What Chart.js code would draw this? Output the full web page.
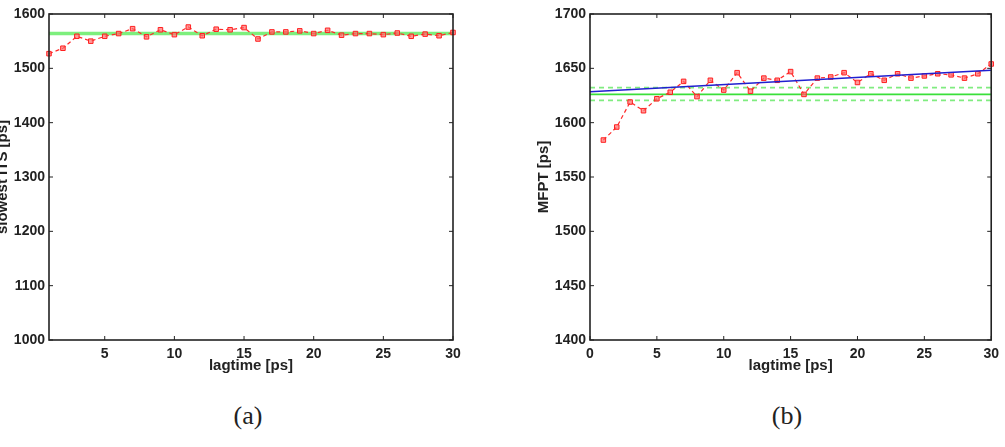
<!DOCTYPE html>
<html>
<head>
<meta charset="utf-8">
<script src="https://cdn.jsdelivr.net/npm/chart.js@4/dist/chart.umd.min.js"></script>
<style>
  body { margin: 0; width: 1005px; height: 447px; background: #fff; position: relative; overflow: hidden; }
  .box { position: absolute; top: 0; height: 390px; }
  #boxA { left: -6px; width: 486px; }
  #boxB { left: 535px; width: 470px; }
  .cap { position: absolute; top: 401px; font: 26px "Liberation Serif", "DejaVu Serif", serif; color: #222; transform: translateX(-50%); }
</style>
</head>
<body>
<div class="box" id="boxA"><canvas id="chartA"></canvas></div>
<div class="box" id="boxB"><canvas id="chartB"></canvas></div>
<div class="cap" style="left:248px">(a)</div>
<div class="cap" style="left:787px">(b)</div>
<script>
// lagtime values (ps)
const lagtimes = [1,2,3,4,5,6,7,8,9,10,11,12,13,14,15,16,17,18,19,20,21,22,23,24,25,26,27,28,29,30];

// (a) slowest implied timescale
const slowestITS = [1527,1537,1559,1550,1559,1564,1573,1558,1571,1562,1576,1560,1572,1571,1575,1554,1567,1567,1569,1564,1570,1561,1564,1564,1562,1565,1559,1563,1560,1566];
const itsReference = 1564;
const xTicksA = [5,10,15,20,25,30];

// (b) mean first passage time
const mfpt = [1584,1596,1619,1611,1622,1628,1638,1624,1639,1630,1646,1629,1641,1639,1647,1626,1641,1642,1646,1637,1645,1639,1645,1641,1643,1645,1644,1641,1645,1654];
const fitX = [0, 30];
const fitY = [1628.5, 1648.2];
const mfptReference = 1626;
const mfptUpper = 1632.2;
const mfptLower = 1620.5;

const tickFont = { family: '"Liberation Sans", Arial, sans-serif', size: 14, weight: 'bold' };
const titleFont = { family: '"Liberation Sans", Arial, sans-serif', size: 15, weight: 'bold' };
const ink = '#222';

const pts = ys => lagtimes.map((x, i) => ({ x: x, y: ys[i] }));
const hline = (x0, x1, v) => [{ x: x0, y: v }, { x: x1, y: v }];

// MATLAB style box with inward ticks
const frame = {
    id: 'frame',
    afterDatasetsDraw(chart) {
        const { ctx, chartArea: a, scales: { x, y } } = chart;
        ctx.save();
        ctx.strokeStyle = ink;
        ctx.lineWidth = 1;
        ctx.beginPath();
        x.ticks.forEach(t => {
            const p = x.getPixelForValue(t.value);
            ctx.moveTo(p, a.bottom); ctx.lineTo(p, a.bottom - 4);
            ctx.moveTo(p, a.top); ctx.lineTo(p, a.top + 4);
        });
        y.ticks.forEach(t => {
            const p = y.getPixelForValue(t.value);
            ctx.moveTo(a.left, p); ctx.lineTo(a.left + 4, p);
            ctx.moveTo(a.right, p); ctx.lineTo(a.right - 4, p);
        });
        ctx.stroke();
        ctx.lineWidth = 1.6;
        ctx.strokeRect(a.left, a.top, a.right - a.left, a.bottom - a.top);
        ctx.restore();
    }
};

function redSeries(ys) {
    return {
        data: pts(ys),
        borderColor: '#ff2a2a',
        borderWidth: 1.2,
        borderDash: [4, 3],
        pointStyle: 'rect',
        pointRadius: 3.2,
        pointBackgroundColor: 'rgba(255,110,110,0.7)',
        pointBorderColor: '#ff2020',
        pointBorderWidth: 1,
        clip: 4,
        order: 0
    };
}

function options(xCfg, yCfg, yTitle, yWidth) {
    return {
        responsive: true,
        maintainAspectRatio: false,
        animation: false,
        layout: { padding: { top: 14, bottom: 10, left: 0, right: yWidth.right } },
        plugins: { legend: { display: false }, tooltip: { enabled: false } },
        scales: {
            x: Object.assign({
                type: 'linear',
                grid: { display: false, drawTicks: false },
                border: { display: false },
                title: { display: true, text: 'lagtime [ps]', color: ink, font: titleFont, padding: { top: 0, bottom: 5 } },
                afterFit: s => { s.height = 40; }
            }, xCfg),
            y: Object.assign({
                grid: { display: false, drawTicks: false },
                border: { display: false },
                title: { display: true, text: yTitle, color: ink, font: titleFont, padding: 0 },
                afterFit: s => { s.width = yWidth.axis; }
            }, yCfg)
        }
    };
}

new Chart(document.getElementById('chartA'), {
    type: 'line',
    data: {
        datasets: [
            redSeries(slowestITS),
            {
                data: hline(1, 30, itsReference),
                borderColor: '#7def7d',
                borderWidth: 3.5,
                pointRadius: 0,
                order: 1
            }
        ]
    },
    options: options(
        { min: 1, max: 30, ticks: { color: ink, font: tickFont, padding: 6, maxRotation: 0 },
          afterBuildTicks: s => { s.ticks = xTicksA.map(v => ({ value: v })); } },
        { min: 1000, max: 1600, ticks: { color: ink, font: tickFont, padding: 4, stepSize: 100, callback: v => v } },
        'slowest ITS [ps]',
        { axis: 55, right: 27 }
    ),
    plugins: [frame]
});

new Chart(document.getElementById('chartB'), {
    type: 'line',
    data: {
        datasets: [
            {
                data: fitX.map((x, i) => ({ x: x, y: fitY[i] })),
                borderColor: '#2020d0',
                borderWidth: 1.6,
                pointRadius: 0,
                order: 0
            },
            Object.assign(redSeries(mfpt), { order: 1 }),
            {
                data: hline(0, 30, mfptReference),
                borderColor: '#3ae03a',
                borderWidth: 1.8,
                pointRadius: 0,
                order: 2
            },
            {
                data: hline(0, 30, mfptUpper),
                borderColor: '#80ec80',
                borderWidth: 1.8,
                borderDash: [5, 4],
                pointRadius: 0,
                order: 3
            },
            {
                data: hline(0, 30, mfptLower),
                borderColor: '#80ec80',
                borderWidth: 1.8,
                borderDash: [5, 4],
                pointRadius: 0,
                order: 3
            }
        ]
    },
    options: options(
        { min: 0, max: 30, ticks: { color: ink, font: tickFont, padding: 6, maxRotation: 0, stepSize: 5 } },
        { min: 1400, max: 1700, ticks: { color: ink, font: tickFont, padding: 4, stepSize: 50, callback: v => v } },
        'MFPT [ps]',
        { axis: 55, right: 12 }
    ),
    plugins: [frame]
});
</script>
</body>
</html>
